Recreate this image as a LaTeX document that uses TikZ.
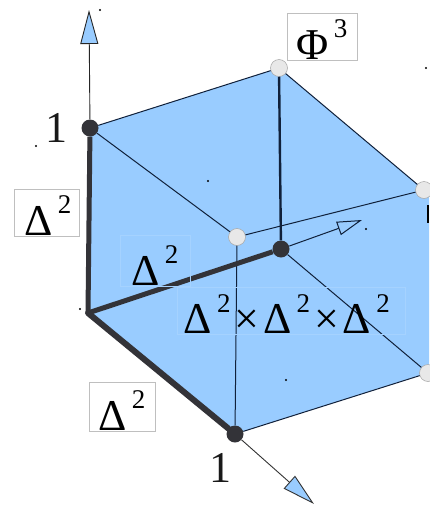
\documentclass[tikz,border=0pt]{standalone}
\usepackage{fontspec}
\setmainfont{Liberation Serif}
\usetikzlibrary{arrows.meta}
\definecolor{cubeblue}{HTML}{99CCFF}
\definecolor{inkdark}{HTML}{333338}
\definecolor{inkline}{HTML}{10203A}
\newcommand{\bigsize}{\fontsize{44}{44}\selectfont}
\newcommand{\supnum}[1]{\kern5pt\raisebox{21.5pt}{\fontsize{27}{27}\selectfont #1}}
\tikzset{
  lblbox/.style={draw=black!25,line width=0.7pt,inner sep=0pt,font=\bigsize,text=black,text height=46pt,text depth=1pt},
  faintbox/.style={lblbox,draw=white!12!cubeblue},
  numlbl/.style={font=\bigsize,inner sep=0pt,text=black!90},
  darkv/.style={circle,fill=inkdark,draw=none,minimum size=17pt,inner sep=0pt},
  lightv/.style={circle,fill=black!9,draw=black!35,line width=0.5pt,minimum size=17pt,inner sep=0pt},
  edgethin/.style={draw=inkline,line width=1pt},
  edgeheavy/.style={draw=inkdark,line width=5pt},
  speck/.style={circle,fill=black,inner sep=0pt,minimum size=2.4pt},
  axisup/.style={draw=black!85,line width=0.9pt,-{Triangle[length=34pt,width=18pt,fill=cubeblue]}},
  axisback/.style={draw=inkline,line width=1pt,-{Triangle[length=25pt,width=14pt,fill=cubeblue]}},
  axislow/.style={draw=black!80,line width=0.9pt,-{Triangle[length=33pt,width=17pt,fill=cubeblue]}}
}
\begin{document}
\begin{tikzpicture}[x=1pt,y=-1pt]
\useasboundingbox (0,0) rectangle (429,509);
% cube body
\fill[cubeblue] (90,128) -- (279,68) -- (424,190) -- (429,190) -- (429,372) -- (427,373) -- (235,434) -- (88,313) -- cycle;
% vertices
\node[darkv] (tl) at (90,128) {};
\node[lightv] (top) at (279,68) {};
\node[lightv] (rt) at (424,190) {};
\node[lightv] (rb) at (428,373) {};
\node[darkv] (bot) at (235,434) {};
\node[lightv] (cen) at (237,237) {};
\node[darkv] (back) at (281,249) {};
\coordinate (org) at (88,313);
\coordinate (uptip) at (89,10);
\coordinate (lowtip) at (314,504);
\coordinate (backtip) at (362,220);
\coordinate (barA) at (428,205);
\coordinate (barB) at (428,223);
% thin edges
\draw[edgethin] (tl) -- (top);
\draw[edgethin] (top) -- (rt);
\draw[edgethin] (rb) -- (bot);
\draw[edgethin] (tl) -- (cen);
\draw[edgethin] (cen) -- (rt);
\draw[edgethin] (cen) -- (bot);
\draw[edgethin] (back) -- (rb);
\draw[draw=inkline,line width=2.4pt] (top) -- (back);
\draw[draw=black,line width=2pt] (barA) -- (barB);
% axes
\draw[axisup] (tl) -- (uptip);
\draw[axislow] (bot) -- (lowtip);
\draw[axisback] (back) -- (backtip);
% heavy edges
\draw[edgeheavy] (org) -- (tl);
\draw[edgeheavy] (org) -- (back);
\draw[edgeheavy,line width=6pt,line cap=round] (org) -- (bot);
% labels
\node[numlbl] (one1) at (56.5,128) {1};
\node[numlbl] (one2) at (220,468) {1};
\node[lblbox,minimum width=65pt] (d1) at (46.5,212.5) {\kern3ptΔ\supnum{2}};
\node[lblbox,minimum width=70pt] (phi) at (322,36.5) {Φ\supnum{3}};
\node[lblbox,minimum width=66pt,text height=48pt] (d2) at (122,406.5) {Δ\supnum{2}};
\node[faintbox,minimum width=70pt,text height=50pt] (d3) at (155,260.5) {Δ\supnum{2}};
\node[faintbox,minimum width=228pt] (prod) at (291,311) {Δ\supnum{2}\kern4pt×\kern4ptΔ\supnum{2}\kern4pt×\kern4ptΔ\supnum{2}\kern8.5pt};
% specks
\node[speck] (s1) at (100,10) {};
\node[speck] (s2) at (36,146) {};
\node[speck] (s3) at (208,181) {};
\node[speck] (s4) at (426,68) {};
\node[speck] (s5) at (366,229) {};
\node[speck] (s6) at (80,309) {};
\node[speck] (s7) at (286,380) {};
\end{tikzpicture}
\end{document}
